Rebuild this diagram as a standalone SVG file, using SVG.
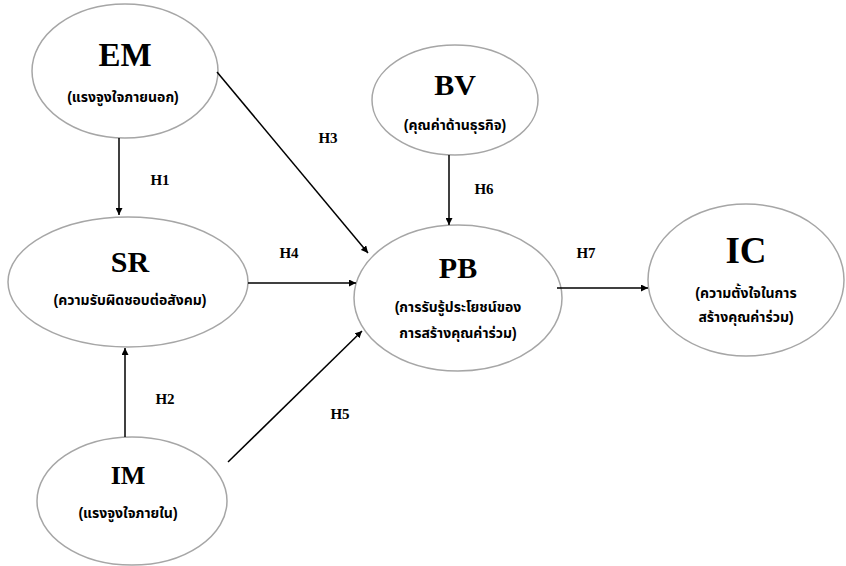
<svg xmlns="http://www.w3.org/2000/svg" width="846" height="566" viewBox="0 0 846 566">
<style>
.node ellipse{fill:#fff;stroke:#a6a6a6;stroke-width:1.5}
.t{font-family:"Liberation Serif","Times New Roman",serif;font-weight:bold;text-anchor:middle;fill:#000}
.s{font-family:"Liberation Sans","Noto Sans Thai","Noto Sans",sans-serif;font-weight:bold;font-size:14px;text-anchor:middle;fill:#000}
.h{font-family:"Liberation Serif","Times New Roman",serif;font-weight:bold;font-size:15px;text-anchor:middle;fill:#000}
.c line{stroke:#000;stroke-width:1.5;marker-end:url(#a)}
</style>
<defs>
<marker id="a" viewBox="0 0 10 10" refX="10" refY="5" markerWidth="7" markerHeight="7" markerUnits="userSpaceOnUse" orient="auto">
<path d="M0,0 L10,5 L0,10 z" fill="#000"/>
</marker>
</defs>
<rect width="846" height="566" fill="#fff"/>
<g id="EM" class="node">
<ellipse cx="125" cy="71" rx="93" ry="67"/>
<text class="t" x="125" y="66" font-size="33">EM</text>
<text class="s" x="123" y="102">(แรงจูงใจภายนอก)</text>
</g>
<g id="SR" class="node">
<ellipse cx="128" cy="282" rx="120" ry="65"/>
<text class="t" x="130" y="272" font-size="30">SR</text>
<text class="s" x="130" y="305">(ความรับผิดชอบต่อสังคม)</text>
</g>
<g id="IM" class="node">
<ellipse cx="132" cy="501" rx="95" ry="64"/>
<text class="t" x="128" y="484" font-size="26">IM</text>
<text class="s" x="128" y="518">(แรงจูงใจภายใน)</text>
</g>
<g id="BV" class="node">
<ellipse cx="455" cy="100" rx="83" ry="55"/>
<text class="t" x="455" y="95" font-size="30">BV</text>
<text class="s" x="455" y="130">(คุณค่าด้านธุรกิจ)</text>
</g>
<g id="PB" class="node">
<ellipse cx="458" cy="298" rx="104" ry="73"/>
<text class="t" x="458" y="278" font-size="30">PB</text>
<text class="s" x="458" y="312">(การรับรู้ประโยชน์ของ</text>
<text class="s" x="458" y="338">การสร้างคุณค่าร่วม)</text>
</g>
<g id="IC" class="node">
<ellipse cx="746" cy="280" rx="98" ry="76"/>
<text class="t" x="746" y="263" font-size="37">IC</text>
<text class="s" x="746" y="298">(ความตั้งใจในการ</text>
<text class="s" x="746" y="322">สร้างคุณค่าร่วม)</text>
</g>
<g id="connectors" class="c">
<line x1="119" y1="138" x2="119" y2="215"/>
<line x1="125" y1="437" x2="125" y2="348"/>
<line x1="217" y1="72" x2="368" y2="253"/>
<line x1="248" y1="283" x2="356" y2="283"/>
<line x1="228" y1="462" x2="362" y2="331"/>
<line x1="449" y1="155" x2="449" y2="225"/>
<line x1="557" y1="288" x2="648" y2="288"/>
</g>
<g id="labels">
<text class="h" x="160" y="185">H1</text>
<text class="h" x="165" y="404">H2</text>
<text class="h" x="328" y="143">H3</text>
<text class="h" x="289" y="258">H4</text>
<text class="h" x="340" y="419">H5</text>
<text class="h" x="484" y="194">H6</text>
<text class="h" x="586" y="258">H7</text>
</g>
</svg>
